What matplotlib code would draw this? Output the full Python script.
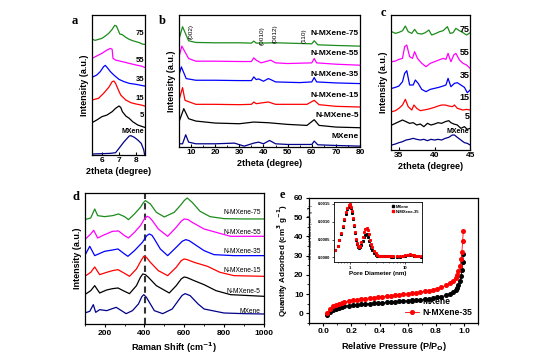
"""Multi-panel XRD / Raman / BET figure."""

import matplotlib

matplotlib.use("Agg")
import matplotlib.pyplot as plt
from matplotlib.ticker import AutoMinorLocator
import numpy as np

plt.rcParams["font.family"] = ["Liberation Sans", "DejaVu Sans"]
plt.rcParams["font.weight"] = "bold"
plt.rcParams["axes.labelweight"] = "bold"
plt.rcParams["mathtext.default"] = "bf"

COLORS = ["#1c8c1c", "#ff00ff", "#0000ff", "#ff0000", "#000000", "#00008b"]
NAMES = ["N-MXene-75", "N-MXene-55", "N-MXene-35", "N-MXene-15", "N-MXene-5", "MXene"]
SHORT = ["75", "55", "35", "15", "5", "MXene"]

# ---- panel a: low-angle XRD, 2theta 5.4-8.5 (top to bottom: 75..MXene)
a_x = [
    [5.42, 5.6, 5.8, 6.0, 6.2, 6.4, 6.6, 6.75, 6.85, 6.95, 7.05, 7.2, 7.4, 7.6, 7.8, 8.0, 8.2, 8.35, 8.5],
    [5.42, 6.0, 6.3, 6.5, 6.6, 6.65, 6.8, 7.2, 7.6, 8.0, 8.3, 8.5],
    [5.42, 5.7, 5.9, 6.1, 6.2, 6.35, 6.5, 6.7, 7.0, 7.3, 7.6, 8.0, 8.5],
    [5.42, 5.8, 6.1, 6.4, 6.6, 6.7, 6.8, 6.95, 7.1, 7.4, 7.7, 8.0, 8.3, 8.5],
    [5.42, 5.7, 6.0, 6.3, 6.6, 6.8, 7.0, 7.1, 7.2, 7.4, 7.6, 7.8, 8.1, 8.5],
    [5.42, 6.0, 6.5, 6.8, 7.0, 7.3, 7.6, 7.7, 7.9, 8.1, 8.3, 8.45, 8.5],
]
a_y = [
    [18, 14, 17, 20, 27, 35, 47, 59, 57, 45, 33, 31, 23, 17, 13, 10, 7, 3, 2],
    [30, 45, 55, 60, 57, 30, 25, 20, 15, 10, 7, 3],
    [28, 35, 45, 60, 64, 55, 45, 35, 22, 15, 10, 7, 2],
    [20, 25, 40, 58, 75, 77, 70, 52, 35, 20, 12, 8, 5, 2],
    [17, 25, 35, 40, 50, 60, 67, 63, 50, 37, 30, 20, 10, 3],
    [3, 4, 5, 7, 20, 40, 57, 58, 53, 45, 35, 15, 0],
]
a_offsets = [330, 260, 205, 145, 80, 0]
a_label_y = [365, 285, 227, 170, 120, 70]

# ---- panel b: wide-angle XRD, 2theta 5-80
b_x = [
    [5, 6.5, 9, 12, 20, 30, 35, 36, 37, 45, 55, 60, 61, 62.5, 70, 80],
    [5, 6.2, 9, 12, 20, 30, 35, 36, 37, 39, 42, 43, 45, 50, 60, 61, 62, 70, 80],
    [5, 6.0, 8, 12, 20, 30, 35, 36, 37, 38, 40, 42, 43, 45, 55, 60, 61, 62, 70, 80],
    [5, 6.5, 7.5, 12, 20, 30, 35, 36, 37, 42, 45, 58, 61, 63, 70, 80],
    [5, 7, 9, 12, 20, 30, 36, 42, 50, 58, 61, 63, 70, 80],
    [5, 6.5, 7.8, 9, 12, 20, 28, 32, 36, 38, 40, 42.5, 45, 50, 60, 61, 62.5, 70, 80],
]
b_y = [
    [322, 360, 318, 313, 312, 312, 311, 317, 311, 312, 310, 309, 318, 306, 304, 302],
    [270, 302, 265, 257, 257, 256, 256, 267, 260, 252, 258, 260, 252, 250, 252, 265, 252, 248, 245],
    [215, 240, 205, 200, 200, 199, 199, 210, 202, 204, 197, 205, 202, 195, 193, 195, 208, 195, 192, 190],
    [140, 178, 140, 128, 128, 127, 128, 135, 130, 135, 128, 128, 140, 127, 122, 120],
    [75, 115, 85, 78, 72, 70, 75, 73, 68, 65, 82, 65, 60, 58],
    [10, 10, 37, 15, 10, 10, 12, 3, 12, 15, 10, 20, 10, 8, 8, 18, 7, 5, 3],
]
b_label_y = [340, 280, 218, 155, 95, 32]
b_planes = ["(002)", "(0010)", "(0012)", "(110)"]
b_plane_x = [10, 39.5, 45, 57]
b_plane_y = [345, 334, 340, 332]

# ---- panel c: XRD zoom, 2theta 34-45
c_x = [
    [34, 34.5, 35, 35.5, 35.9, 36.3, 36.8, 37.2, 37.6, 38.2, 38.7, 39.2, 39.6, 40.2, 40.7, 41.2, 41.8, 42.2, 42.6, 43.0, 43.5, 44.0, 44.5, 45],
    [34, 34.5, 35, 35.5, 35.8, 36.1, 36.5, 36.9, 37.2, 37.6, 38.2, 38.8, 39.4, 40.0, 40.6, 41.2, 41.6, 41.9, 42.3, 42.7, 43.0, 43.5, 44.0, 44.5, 45],
    [34, 34.5, 35, 35.5, 35.8, 36.1, 36.5, 37, 37.3, 37.7, 38.2, 38.8, 39.4, 40, 40.6, 41.2, 41.6, 41.9, 42.3, 42.8, 43.2, 43.7, 44.2, 44.6, 45],
    [34, 34.5, 35, 35.5, 35.9, 36.3, 36.8, 37.1, 37.5, 38, 38.5, 39, 39.5, 40, 40.5, 41, 41.5, 42, 42.5, 42.8, 43.2, 44, 44.5, 45],
    [34, 34.5, 35, 35.5, 36, 36.5, 37, 37.5, 38, 38.5, 39, 39.5, 40, 40.5, 41, 41.5, 42, 42.3, 42.7, 43.2, 43.7, 44.2, 44.6, 45],
    [34, 34.5, 35, 35.5, 36, 36.5, 37, 37.5, 38, 38.5, 39, 39.5, 40, 40.5, 41, 41.5, 42, 42.5, 42.8, 43.2, 43.7, 44.2, 44.6, 45],
]
c_y = [
    [355, 350, 353, 358, 372, 355, 350, 362, 350, 348, 352, 360, 345, 350, 355, 358, 370, 350, 352, 365, 358, 352, 345, 352],
    [265, 267, 272, 275, 310, 315, 280, 275, 295, 275, 260, 250, 260, 265, 270, 275, 272, 290, 265, 285, 290, 270, 260, 255, 245],
    [185, 188, 192, 205, 230, 238, 195, 195, 210, 200, 182, 175, 182, 185, 188, 192, 195, 215, 190, 200, 202, 195, 188, 172, 180],
    [115, 118, 125, 135, 152, 130, 120, 135, 125, 118, 120, 122, 125, 128, 132, 135, 135, 132, 130, 135, 125, 120, 122, 120],
    [75, 80, 85, 90, 85, 80, 82, 75, 78, 70, 80, 75, 78, 82, 80, 85, 88, 82, 78, 75, 65, 70, 62, 65],
    [15, 18, 22, 25, 30, 32, 35, 32, 30, 32, 28, 32, 30, 32, 30, 35, 38, 45, 45, 38, 30, 22, 20, 15],
]
c_label_y = [363, 292, 225, 157, 100, 57]

# ---- panel d: Raman, 100-1000 cm-1
d_x = [
    [100, 130, 150, 165, 200, 240, 270, 300, 320, 350, 380, 395, 405, 415, 430, 460, 500, 550, 580, 600, 615, 640, 680, 730, 800, 900, 1000],
    [100, 130, 145, 165, 200, 240, 270, 300, 320, 350, 380, 400, 413, 425, 440, 470, 517, 560, 585, 600, 620, 640, 700, 760, 833, 900, 1000],
    [100, 125, 150, 200, 240, 267, 300, 317, 350, 390, 412, 425, 438, 450, 480, 517, 560, 590, 608, 625, 650, 700, 750, 850, 1000],
    [100, 130, 150, 175, 210, 240, 267, 300, 325, 360, 385, 397, 410, 430, 470, 517, 560, 585, 600, 615, 650, 717, 780, 850, 1000],
    [100, 130, 150, 175, 210, 240, 267, 300, 325, 360, 380, 392, 405, 420, 460, 525, 560, 585, 600, 615, 650, 700, 760, 833, 1000],
    [100, 125, 143, 155, 175, 210, 258, 290, 308, 340, 370, 387, 397, 410, 420, 450, 492, 540, 570, 590, 605, 630, 670, 700, 800, 900, 1000],
]
d_y = [
    [313, 318, 345, 325, 322, 325, 330, 322, 313, 330, 350, 364, 370, 366, 360, 335, 321, 335, 355, 370, 378, 365, 338, 322, 316, 315, 315],
    [253, 270, 281, 258, 268, 278, 279, 265, 258, 275, 295, 315, 323, 320, 310, 285, 263, 290, 308, 315, 313, 305, 285, 275, 263, 263, 263],
    [205, 233, 205, 218, 222, 225, 210, 203, 220, 245, 265, 270, 266, 255, 225, 205, 230, 248, 253, 250, 240, 220, 208, 205, 205],
    [143, 155, 171, 148, 155, 160, 163, 152, 143, 165, 192, 203, 200, 185, 160, 145, 170, 190, 195, 193, 185, 173, 155, 145, 143],
    [88, 100, 115, 93, 102, 106, 108, 98, 91, 115, 140, 150, 148, 140, 115, 93, 115, 135, 141, 139, 130, 118, 100, 88, 83],
    [33, 38, 58, 35, 43, 40, 50, 38, 31, 40, 60, 82, 88, 80, 70, 40, 31, 45, 70, 86, 91, 85, 60, 45, 33, 31, 30],
]
d_label_y = [333, 275, 218, 161, 98, 38]
d_dash_x = 405

# ---- panel e: N2 isotherms
e_p = [0.03, 0.05, 0.07, 0.09, 0.11, 0.13, 0.15, 0.18, 0.21, 0.24, 0.27, 0.30, 0.33, 0.36,
       0.39, 0.42, 0.45, 0.48, 0.51, 0.54, 0.57, 0.60, 0.63, 0.66, 0.69, 0.72, 0.75, 0.78,
       0.81, 0.84, 0.87, 0.90, 0.92, 0.94, 0.95, 0.96, 0.97, 0.98, 0.985, 0.99, 0.995]
e_mxene = [-1.0, 0.8, 1.8, 2.4, 2.9, 3.3, 3.6, 4.0, 4.3, 4.5, 4.7, 4.9, 5.1, 5.3, 5.4, 5.6,
           5.7, 5.9, 6.0, 6.2, 6.3, 6.5, 6.7, 6.9, 7.1, 7.3, 7.6, 7.9, 8.3, 8.7, 9.3, 10.2,
           11.0, 12.3, 13.4, 14.8, 16.8, 19.5, 22.5, 26.5, 31.0]
e_nmx35 = [0.2, 2.4, 3.6, 4.4, 5.0, 5.5, 5.9, 6.4, 6.8, 7.1, 7.4, 7.7, 8.0, 8.2, 8.4, 8.7,
           8.9, 9.1, 9.3, 9.6, 9.8, 10.1, 10.4, 10.7, 11.0, 11.4, 11.8, 12.3, 12.9, 13.6, 14.5,
           15.8, 17.0, 18.6, 20.0, 21.8, 24.5, 28.0, 32.0, 37.5, 43.0]

# inset: pore size distribution
pore_d = [0.55, 0.6, 0.65, 0.7, 0.75, 0.8, 0.85, 0.9, 0.95, 1.0, 1.05, 1.1, 1.15, 1.2, 1.25,
          1.3, 1.35, 1.4, 1.45, 1.5, 1.6, 1.7, 1.8, 1.9, 2.0, 2.1, 2.2, 2.3, 2.4, 2.5, 2.7,
          2.9, 3.1, 3.4, 3.7, 4, 4.5, 5, 5.5, 6, 7, 8, 9, 10, 11, 12, 13, 14, 15, 17, 19]
pore_mxene = [20, 32, 48, 65, 85, 105, 122, 135, 142, 143, 138, 125, 108, 88, 68, 50, 37,
              29, 27, 28, 36, 47, 57, 63, 64, 58, 47, 36, 27, 20, 13, 8, 5, 3, 3, 3, 3, 3,
              2, 2, 2, 2, 3, 5, 7, 8, 7, 5, 4, 3, 2]
pore_nmx35 = [20, 33, 50, 68, 88, 108, 126, 139, 147, 148, 142, 129, 111, 90, 70, 52, 39,
              31, 29, 31, 42, 56, 70, 80, 83, 77, 64, 50, 38, 29, 18, 11, 7, 5, 4, 4, 4, 4,
              3, 3, 3, 3, 4, 6, 8, 9, 8, 6, 5, 4, 3]  # x 1e-5 cm3/g

TICK_FS = 6
LABEL_FS = 6.5


def style_box(ax, direction="in"):
    for sp in ax.spines.values():
        sp.set_linewidth(0.9)
    ax.tick_params(direction=direction, labelsize=TICK_FS, width=0.8, length=2.5, pad=1.5)
    ax.tick_params(which="minor", direction=direction, width=0.6, length=1.5)


def stacked(ax, xs, ys, offsets=None):
    for i, (x, y) in enumerate(zip(xs, ys)):
        off = offsets[i] if offsets is not None else 0
        ax.plot(x, np.asarray(y) + off, color=COLORS[i], lw=0.9)
    ax.set_yticks([])
    ax.set_ylabel("Intensity (a.u.)", fontsize=LABEL_FS, labelpad=2)


fig = plt.figure(figsize=(5.54, 3.58), dpi=100)
fig.patch.set_facecolor("white")

# a
ax_a = fig.add_axes([0.166, 0.567, 0.0957, 0.391])
stacked(ax_a, a_x, a_y, a_offsets)
ax_a.set_xlim(5.42, 8.52)
ax_a.set_ylim(0, 420)
ax_a.set_xticks([6, 7, 8])
for lab, y in zip(SHORT, a_label_y):
    ax_a.text(8.48, y, lab, fontsize=5 if lab == "MXene" else 5.5, ha="right", va="center")
ax_a.set_xlabel("2theta (degree)", fontsize=LABEL_FS, labelpad=2)
style_box(ax_a)

# b
ax_b = fig.add_axes([0.323, 0.589, 0.327, 0.369])
stacked(ax_b, b_x, b_y)
ax_b.set_xlim(5, 80)
ax_b.set_ylim(0, 395)
ax_b.set_xticks(range(10, 81, 10))
ax_b.xaxis.set_minor_locator(AutoMinorLocator(2))
for lab, y in zip(NAMES, b_label_y):
    ax_b.text(79.5, y, lab, fontsize=6, ha="right", va="center")
for lab, x, y in zip(b_planes, b_plane_x, b_plane_y):
    ax_b.text(x, y, lab, fontsize=4.6, rotation=90, ha="center", va="center", fontweight="normal")
ax_b.set_xlabel("2theta (degree)", fontsize=LABEL_FS, labelpad=2)
style_box(ax_b)

# c
ax_c = fig.add_axes([0.706, 0.581, 0.1426, 0.377])
stacked(ax_c, c_x, c_y)
ax_c.set_xlim(33.9, 45)
ax_c.set_ylim(0, 405)
ax_c.set_xticks([35, 40, 45])
for lab, y in zip(SHORT, c_label_y):
    ax_c.text(44.9, y, lab, fontsize=5 if lab == "MXene" else 6.5, ha="right", va="center")
ax_c.set_xlabel("2theta (degree)", fontsize=LABEL_FS, labelpad=2)
style_box(ax_c)

# d
ax_d = fig.add_axes([0.153, 0.095, 0.323, 0.366])
stacked(ax_d, d_x, d_y)
ax_d.axvline(d_dash_x, color="#333333", lw=1.5, ls=(0, (3, 2)), zorder=0)
ax_d.set_xlim(100, 1000)
ax_d.set_ylim(0, 393)
ax_d.set_xticks(range(200, 1001, 200))
ax_d.xaxis.set_minor_locator(AutoMinorLocator(2))
for lab, y in zip(NAMES, d_label_y):
    ax_d.text(985, y, lab, fontsize=4.8, ha="right", va="center", fontweight="normal")
ax_d.set_xlabel("Raman Shift (cm$^{-1}$)", fontsize=LABEL_FS, labelpad=3)
style_box(ax_d, "out")

# e
ax_e = fig.add_axes([0.558, 0.098, 0.305, 0.349])
ax_e.plot(e_p, e_mxene, "o-", color="black", ms=2.6, lw=0.6, label="MXene")
ax_e.plot(e_p, e_nmx35, "o-", color="red", ms=2.6, lw=0.6, label="N-MXene-35")
ax_e.set_xlim(-0.1, 1.1)
ax_e.set_ylim(-5, 60)
ax_e.set_xticks(np.arange(0, 1.01, 0.2))
ax_e.set_yticks(range(0, 61, 10))
ax_e.xaxis.set_minor_locator(AutoMinorLocator(2))
ax_e.yaxis.set_minor_locator(AutoMinorLocator(2))
ax_e.set_xlabel("Relative Pressure (P/P$_O$)", fontsize=LABEL_FS, labelpad=3)
ax_e.set_ylabel("Quantity Adsorbed (cm$^3$ g$^{-1}$)", fontsize=5.8, labelpad=3)
ax_e.legend(loc="lower right", fontsize=6.2, frameon=False, handlelength=1.6,
            borderaxespad=0.3, labelspacing=0.25, handletextpad=0.4)
style_box(ax_e, "out")

# inset
ax_i = fig.add_axes([0.603, 0.268, 0.159, 0.168])
ax_i.plot(pore_d, np.asarray(pore_mxene) * 1e-5, "s", color="black", ms=1.2, label="MXene")
ax_i.plot(pore_d, np.asarray(pore_nmx35) * 1e-5, "s", color="red", ms=1.2, label="N-MXene-35")
ax_i.set_xscale("log")
ax_i.set_xlim(0.52, 20)
ax_i.set_ylim(-0.00013, 0.00155)
ax_i.set_yticks([0, 0.0005, 0.0010, 0.0015])
ax_i.set_yticklabels(["0.0000", "0.0005", "0.0010", "0.0015"])
ax_i.set_xticks([1, 10])
ax_i.set_xticklabels(["1", "10"])
for sp in ax_i.spines.values():
    sp.set_linewidth(0.6)
ax_i.tick_params(labelsize=3, width=0.5, length=1.5, pad=1)
ax_i.tick_params(which="minor", width=0.4, length=1)
ax_i.set_xlabel("Pore Diameter (nm)", fontsize=4.5, labelpad=1)
ax_i.set_ylabel("Differential Volume (cm$^3$ g$^{-1}$)", fontsize=3, labelpad=1, fontweight="normal")
ax_i.legend(loc="upper right", fontsize=3, frameon=False, markerscale=1.2,
            handletextpad=0.2, labelspacing=0.2, borderaxespad=0.3, handlelength=0.8)

# panel letters
for lab, x, y in [("a", 75, 21), ("b", 162, 21), ("c", 383, 13), ("d", 76, 197), ("e", 282, 195)]:
    fig.text(x / 554, 1 - y / 358, lab, fontsize=9, fontweight="bold",
             family="Liberation Serif", ha="center", va="center")

fig.savefig("out.png", dpi=100)
